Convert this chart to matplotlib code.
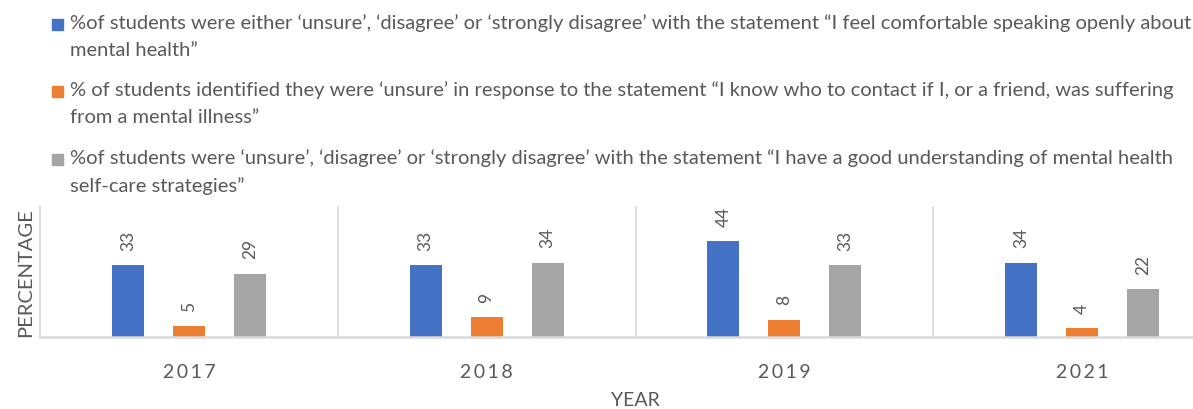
import numpy as np
import matplotlib.pyplot as plt
from matplotlib.patches import Rectangle

plt.rcParams['font.family'] = ['Lato', 'DejaVu Sans']

years = ['2017', '2018', '2019', '2021']
comfortable = [33, 33, 44, 34]
contact = [5, 9, 8, 4]
selfcare = [29, 34, 33, 22]

labels = [
    '%of students were either \u2018unsure\u2019, \u2018disagree\u2019 or \u2018strongly disagree\u2019 with the statement \u201cI feel comfortable speaking openly about\nmental health\u201d',
    '% of students identified they were \u2018unsure\u2019 in response to the statement \u201cI know who to contact if I, or a friend, was suffering\nfrom a mental illness\u201d',
    '%of students were \u2018unsure\u2019, \u2018disagree\u2019 or \u2018strongly disagree\u2019 with the statement \u201cI have a good understanding of mental health\nself-care strategies\u201d',
]
colors = ['#4472C4', '#ED7D31', '#A5A5A5']
txt = '#595959'

W, H = 1193, 410
fig = plt.figure(figsize=(W / 100, H / 100), dpi=100)
# the plot area runs past the right edge of the picture (cropped like the original)
ax = fig.add_axes([40 / W, 1 - 338 / H, 1191 / W, 131 / H])

x = np.arange(len(years))
series = [comfortable, contact, selfcare]
offsets = [-0.205, 0, 0.205]
for vals, off, c in zip(series, offsets, colors):
    ax.bar(x + off, vals, width=0.107, color=c)
    for xi, v in zip(x, vals):
        ax.text(xi + off, v + 7, str(v), rotation=90, ha='center', va='bottom',
                fontsize=12.5, color=txt)

ax.set_xlim(-0.5, len(years) - 0.5)
ax.set_ylim(0, 60)
ax.set_yticks([])
ax.set_xticks(x)
ax.set_xticklabels(['\u2009'.join(list(y)) for y in years], fontsize=14, color=txt)
ax.tick_params(axis='x', length=0, pad=19)
for b in np.arange(0.5, len(years) - 0.5, 1):
    ax.axvline(b, color='#D9D9D9', lw=1.2)
ax.spines['top'].set_visible(False)
ax.spines['right'].set_visible(False)
ax.spines['left'].set_color('#D9D9D9')
ax.spines['left'].set_linewidth(1.2)
ax.spines['bottom'].set_color('#D9D9D9')
ax.spines['bottom'].set_linewidth(1.8)

ax.set_ylabel('PERCENTAGE', fontsize=14.5, color=txt, labelpad=4)
fig.text(635 / W, 1 - 392 / H, 'YEAR', ha='center', va='top', fontsize=14, color=txt)

# legend, drawn by hand so the marker sits on the first line
for i, (lab, c) in enumerate(zip(labels, colors)):
    yc = 25 + i * 67.5
    fig.patches.append(Rectangle((52 / W, 1 - (yc + 5.5) / H), 11 / W, 11 / H,
                                 transform=fig.transFigure, color=c))
    fig.text(70 / W, 1 - (yc - 11) / H, lab, ha='left', va='top', fontsize=14.5,
             color=txt, linespacing=1.7)

fig.savefig('out.png', dpi=100)
